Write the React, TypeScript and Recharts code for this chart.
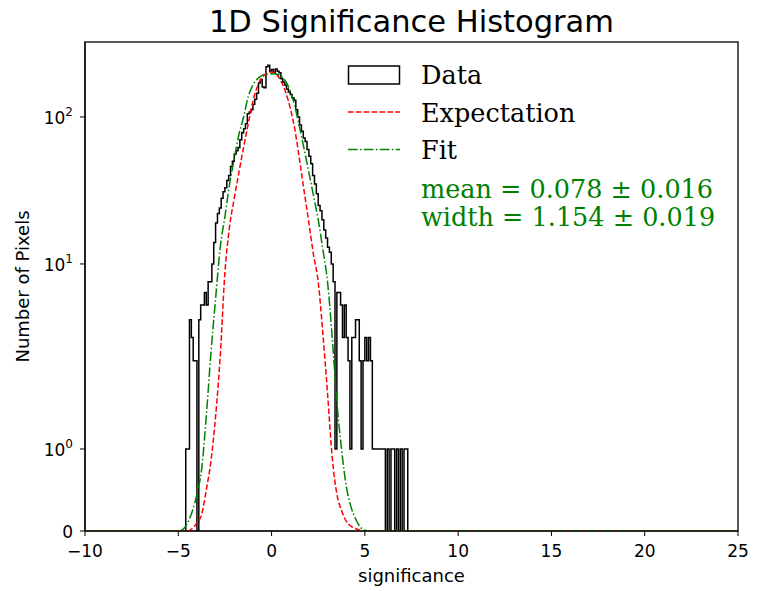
import { ComposedChart, Customized, Line, ReferenceArea, XAxis, YAxis } from 'recharts';

// histogram: counts per 0.1-wide bin, first bin starts at -4.6
const BIN_START = -4.6;
const BIN_WIDTH = 0.1;
const histCounts = [
  1, 1, 5, 4, 3, 3, 0, 5, 6, 6,
  7, 6, 8, 8, 10, 14, 19, 22, 24, 28,
  31, 33, 37, 40, 46, 50, 56, 59, 62, 70,
  78, 83, 90, 105, 108, 112, 122, 132, 145, 170,
  180, 160, 158, 220, 225, 205, 210, 200, 212, 205,
  200, 182, 172, 165, 155, 148, 142, 135, 130, 112,
  100, 88, 80, 72, 68, 60, 54, 48, 40, 35,
  30, 25, 23, 20, 17, 15, 13, 12, 10, 8,
  1, 7, 7, 6, 4, 6, 4, 3, 1, 4,
  4, 5, 5, 3, 1, 3, 4, 3, 4, 3,
  1, 1, 1, 1, 1, 1, 1, 0, 1, 0,
  1, 1, 0, 1, 0, 1, 0, 1, 1,
];

const curveX = [
  -10, -5, -4.75, -4.5, -4.25, -4, -3.75, -3.5, -3.25, -3, -2.75, -2.5, -2.25, -2, -1.75,
  -1.5, -1.25, -1, -0.75, -0.5, -0.25, 0, 0.25, 0.5, 0.75, 1, 1.25, 1.5, 1.75, 2,
  2.25, 2.5, 2.75, 3, 3.25, 3.5, 3.75, 4, 4.25, 4.5, 4.75, 5, 5.25, 25,
];
const expectationCounts = [
  0, 0, 0, 0, 0.03, 0.1, 0.2, 0.5, 0.85, 1.5, 3.2, 9, 18, 28, 42,
  62, 90, 128, 162, 186, 198, 202, 196, 176, 148, 115, 82, 51, 31, 19,
  11.5, 8, 4.2, 2, 0.9, 0.45, 0.25, 0.12, 0.06, 0.03, 0.01, 0, 0, 0,
];
const fitCounts = [
  0, 0, 0.02, 0.1, 0.24, 0.45, 0.75, 1.5, 3.3, 6.5, 13, 21, 35, 52, 76,
  100, 138, 165, 182, 192, 196, 197, 196, 190, 175, 150, 118, 85, 60, 42,
  29, 20, 12.5, 8, 4, 1.8, 1, 0.55, 0.3, 0.15, 0.05, 0.01, 0, 0,
];

const xTicks = [-10, -5, 0, 5, 10, 15, 20, 25];
const yTickCounts = [0, 1, 10, 100];
const yTickLabels: [string, string][] = [['0', ''], ['10', '0'], ['10', '1'], ['10', '2']];

const TITLE = '1D Significance Histogram';
const X_LABEL = 'significance';
const Y_LABEL = 'Number of Pixels';
const legendNames = ['Data', 'Expectation', 'Fit'];
const fitText = ['mean = 0.078 \u00b1 0.016', 'width = 1.154 \u00b1 0.019'];

// symlog-like y transform (linear below 1, log above, decades stretched as in the original)
const LIN_SHARE = 0.558;
const FIRST_DECADE = 1.259;
const Y_TOP = 3.327;
const sy = (c: number) =>
  c <= 1 ? c * LIN_SHARE
    : c <= 10 ? LIN_SHARE + FIRST_DECADE * Math.log10(c)
      : LIN_SHARE + FIRST_DECADE + Math.log10(c / 10);

const histEnd = +(BIN_START + histCounts.length * BIN_WIDTH).toFixed(2);
const histData = [
  { x: BIN_START, y: 0 },
  ...histCounts.map((c, i) => ({ x: +(BIN_START + i * BIN_WIDTH).toFixed(2), y: sy(c) })),
  { x: histEnd, y: 0 },
];
const expData = curveX.map((x, i) => ({ x, y: sy(expectationCounts[i]) }));
const fitData = curveX.map((x, i) => ({ x, y: sy(fitCounts[i]) }));
const yTicks = yTickCounts.map(sy);

const SANS = 'DejaVu Sans';
const SERIF = 'DejaVu Serif';

const YTick = (props: any) => {
  const { x, y, payload } = props;
  const [base, sup] = yTickLabels[yTicks.indexOf(payload.value)] || [String(payload.value), ''];
  return (
    <text x={x} y={y + 7} textAnchor="end" fontFamily={SANS} fontSize={17} fill="#000">
      {base}
      {sup && <tspan dy={-7.5} fontSize={12}>{sup}</tspan>}
    </text>
  );
};

const Overlay = () => (
  <g>
    <text x={411.5} y={32} textAnchor="middle" fontFamily={SANS} fontSize={30.5} fill="#000">{TITLE}</text>
    <rect x={348.5} y={66} width={51} height={18} fill="#fff" stroke="#000" strokeWidth={1.5} />
    <line x1={348} x2={400} y1={112} y2={112} stroke="#ff0000" strokeWidth={1.5} strokeDasharray="5.5 2.4" />
    <line x1={348} x2={400} y1={149.5} y2={149.5} stroke="#008000" strokeWidth={1.5} strokeDasharray="9.6 2.4 1.5 2.4" />
    {legendNames.map((n, i) => (
      <text key={n} x={421} y={84 + i * 37.5} fontFamily={SERIF} fontSize={25.5} fill="#000">{n}</text>
    ))}
    {fitText.map((t, i) => (
      <text key={t} x={421} y={198 + i * 28} fontFamily={SERIF} fontSize={25.5} fill="#008000">{t}</text>
    ))}
  </g>
);

export default function App() {
  return (
    <div style={{ position: 'absolute', left: 0, top: 0, background: '#fff' }}>
      <ComposedChart width={761} height={591} margin={{ top: 42, right: 23, bottom: 0, left: 0 }}>
        <XAxis
          type="number"
          dataKey="x"
          domain={[-10, 25]}
          ticks={xTicks}
          allowDataOverflow
          height={60}
          tickSize={5}
          tickMargin={9}
          tick={{ fill: '#000', fontSize: 17, fontFamily: SANS }}
          tickFormatter={(v: number) => (v < 0 ? '\u2212' + Math.abs(v) : String(v))}
          axisLine={{ stroke: '#000', strokeWidth: 1.2 }}
          tickLine={{ stroke: '#000' }}
          label={{
            content: (p: any) => (
              <text x={p.viewBox.x + p.viewBox.width / 2} y={p.viewBox.y + 51} textAnchor="middle"
                fontFamily={SANS} fontSize={18} fill="#000">{X_LABEL}</text>
            ),
          }}
        />
        <YAxis
          type="number"
          dataKey="y"
          domain={[0, Y_TOP]}
          ticks={yTicks}
          allowDataOverflow
          width={85}
          tickSize={5}
          tickMargin={7}
          tick={<YTick />}
          axisLine={{ stroke: '#000', strokeWidth: 1.2 }}
          tickLine={{ stroke: '#000' }}
          label={{
            content: (p: any) => {
              const cx = p.viewBox.x + 22;
              const cy = p.viewBox.y + p.viewBox.height / 2;
              return (
                <text x={cx} y={cy} transform={`rotate(-90 ${cx} ${cy})`} textAnchor="middle"
                  dominantBaseline="central" fontFamily={SANS} fontSize={18} fill="#000">{Y_LABEL}</text>
              );
            },
          }}
        />
        <Line data={histData} dataKey="y" type="stepAfter" stroke="#000" strokeWidth={1.5}
          dot={false} isAnimationActive={false} />
        <Line data={expData} dataKey="y" type="monotone" stroke="#ff0000" strokeWidth={1.5}
          strokeDasharray="5.5 2.4" dot={false} isAnimationActive={false} />
        <Line data={fitData} dataKey="y" type="monotone" stroke="#008000" strokeWidth={1.5}
          strokeDasharray="9.6 2.4 1.5 2.4" dot={false} isAnimationActive={false} />
        <ReferenceArea x1={-10} x2={25} y1={0} y2={Y_TOP} fill="none" stroke="#222" strokeWidth={1.5} />
        <Customized component={<Overlay />} />
      </ComposedChart>
    </div>
  );
}
